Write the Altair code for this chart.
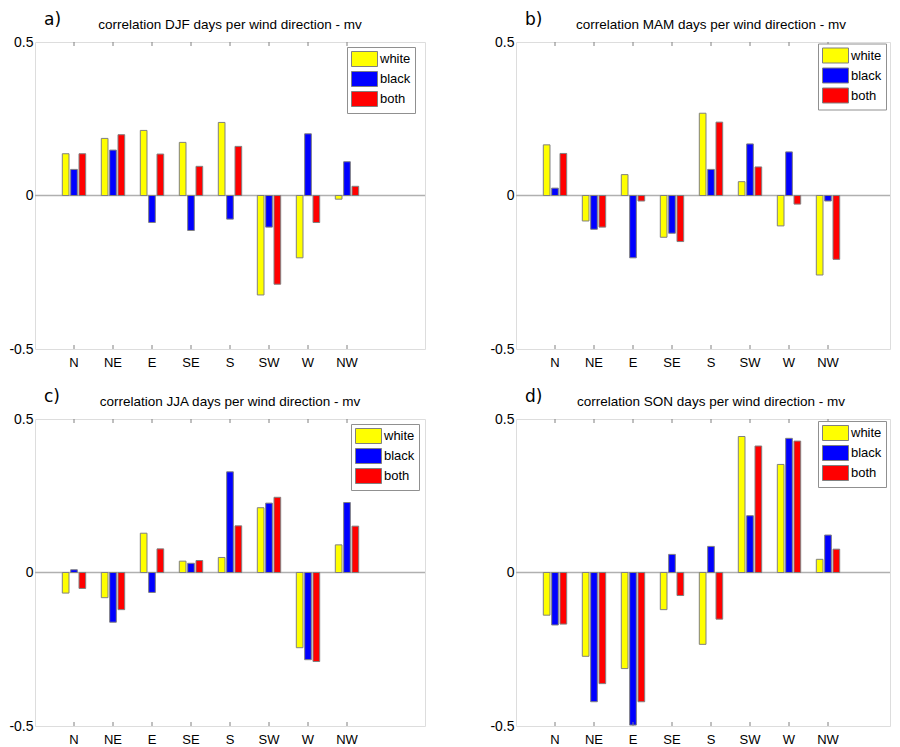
import altair as alt
import pandas as pd

directions = ["N", "NE", "E", "SE", "S", "SW", "W", "NW"]
series_names = ["white", "black", "both"]
series_colors = ["#ffff00", "#0000ff", "#ff0000"]
seasons = ["DJF", "MAM", "JJA", "SON"]
letters = ["a)", "b)", "c)", "d)"]
y_ticks = [-0.5, 0, 0.5]
zero_line = [0]

djf_white = [0.136, 0.186, 0.212, 0.173, 0.238, -0.324, -0.203, -0.012]
djf_black = [0.085, 0.148, -0.088, -0.114, -0.077, -0.103, 0.201, 0.110]
djf_both = [0.136, 0.198, 0.135, 0.095, 0.160, -0.289, -0.088, 0.030]

mam_white = [0.165, -0.083, 0.068, -0.136, 0.268, 0.045, -0.099, -0.259]
mam_black = [0.024, -0.110, -0.203, -0.123, 0.085, 0.168, 0.142, -0.018]
mam_both = [0.137, -0.103, -0.018, -0.150, 0.239, 0.093, -0.028, -0.208]

jja_white = [-0.067, -0.082, 0.128, 0.037, 0.049, 0.211, -0.245, 0.090]
jja_black = [0.009, -0.162, -0.065, 0.030, 0.328, 0.226, -0.284, 0.228]
jja_both = [-0.052, -0.121, 0.077, 0.039, 0.152, 0.245, -0.290, 0.151]

son_white = [-0.139, -0.273, -0.313, -0.121, -0.234, 0.443, 0.352, 0.043]
son_black = [-0.171, -0.421, -0.497, 0.059, 0.085, 0.185, 0.437, 0.122]
son_both = [-0.168, -0.362, -0.421, -0.075, -0.152, 0.412, 0.428, 0.076]

FONT = "Liberation Sans"
FRAME = "#808080"
H = 307
TITLE_X = 195  # centre of a 390-px-wide plot frame


def panel(season, letter, white, black, both, width, lx, ly):
    rows = []
    for s, vals in zip(series_names, [white, black, both]):
        for d, v in zip(directions, vals):
            rows.append({"direction": d, "series": s, "value": v})
    df = pd.DataFrame(rows)

    xscale = alt.Scale(domain=directions, range=[19.5, 331.5],
                       paddingInner=0, paddingOuter=0)
    yscale = alt.Scale(domain=[-0.5, 0.5], nice=False)
    xaxis = alt.Axis(title=None, ticks=False, domain=False, grid=False,
                     labelFont=FONT, labelFontSize=13, labelColor="black",
                     labelPadding=7, labelAngle=0)
    yaxis = alt.Axis(title=None, ticks=False, domain=False, grid=False,
                     values=y_ticks, labelExpr="toString(datum.value)",
                     labelFont=FONT, labelFontSize=14, labelColor="black",
                     labelPadding=2)

    zero = alt.Chart(pd.DataFrame({"zero": zero_line})).mark_rule(
        color="#b0b0b0", strokeWidth=1.5
    ).encode(y=alt.Y("zero:Q", scale=yscale, axis=yaxis))

    bars = alt.Chart(df).mark_bar(stroke="#808080", strokeWidth=1).encode(
        x=alt.X("direction:N", scale=xscale, sort=directions, axis=xaxis),
        xOffset=alt.XOffset("series:N", sort=series_names,
                            scale=alt.Scale(domain=series_names,
                                            paddingInner=0.2,
                                            paddingOuter=0.935)),
        y=alt.Y("value:Q", scale=yscale, axis=yaxis),
        color=alt.Color(
            "series:N", sort=series_names,
            scale=alt.Scale(domain=series_names, range=series_colors),
            legend=alt.Legend(
                title=None, orient="none", legendX=lx, legendY=ly,
                direction="vertical",
                symbolType="M-1,-1H2.4667V1H-1Z", symbolSize=225,
                symbolStrokeColor="#808080", symbolStrokeWidth=1,
                symbolOpacity=1,
                labelFont=FONT, labelFontSize=13, labelColor="black",
                labelOffset=13, rowPadding=0, padding=4,
                strokeColor="#909090", fillColor="white", cornerRadius=0,
            ),
        ),
    )

    tick_df = pd.DataFrame({"direction": directions})
    ticks_bottom = alt.Chart(tick_df).mark_rule(color=FRAME).encode(
        x=alt.X("direction:N", scale=xscale, sort=directions, axis=xaxis),
        y=alt.value(H), y2=alt.value(H - 4),
    )
    ticks_top = alt.Chart(tick_df).mark_rule(color=FRAME).encode(
        x=alt.X("direction:N", scale=xscale, sort=directions, axis=xaxis),
        y=alt.value(0), y2=alt.value(4),
    )
    label = alt.Chart(pd.DataFrame({"letter": [letter]})).mark_text(
        align="left", baseline="alphabetic", font="DejaVu Sans",
        fontSize=17, color="black"
    ).encode(x=alt.value(9), y=alt.value(-17), text="letter:N")
    title = alt.Chart(pd.DataFrame({
        "title": [f"correlation {season} days per wind direction - mv"]
    })).mark_text(
        align="center", baseline="alphabetic", font=FONT,
        fontSize=13.5, color="black"
    ).encode(x=alt.value(TITLE_X), y=alt.value(-13), text="title:N")

    return alt.layer(zero, bars, ticks_bottom, ticks_top, label,
                     title).properties(width=width, height=H)


pa = panel("DJF", "a)", djf_white, djf_black, djf_both, 390, 312, 5)
pb = panel("MAM", "b)", mam_white, mam_black, mam_both, 374, 302, 1.5)
pc = panel("JJA", "c)", jja_white, jja_black, jja_both, 390, 316, 5)
pd_ = panel("SON", "d)", son_white, son_black, son_both, 374, 302, 2)

chart = alt.concat(
    pa, pb, pc, pd_, columns=2, spacing={"row": 70, "column": 91},
    bounds="flush",
).resolve_scale(color="independent").resolve_legend(
    color="independent"
).properties(
    padding={"left": 0, "top": 2, "right": 0, "bottom": 0}
).configure_view(
    stroke=FRAME, strokeWidth=1
).configure(background="white")

chart.save("out.html", embed_options={"renderer": "svg", "actions": False})
